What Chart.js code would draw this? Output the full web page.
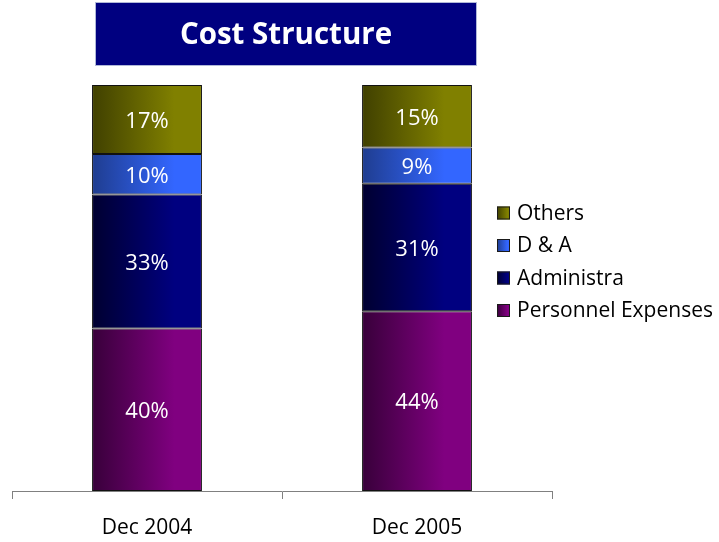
<!DOCTYPE html>
<html>
<head>
<meta charset="utf-8">
<script src="https://cdn.jsdelivr.net/npm/chart.js@4/dist/chart.umd.min.js"></script>
<style>
  html, body { margin: 0; padding: 0; background: #ffffff; }
  #wrap { width: 719px; height: 542px; position: relative; }
</style>
</head>
<body>
<div id="wrap"><canvas id="c" width="719" height="542"></canvas></div>
<script>
// ---- data ----
const categories = ["Dec 2004", "Dec 2005"];
const personnel = [40, 44.3];
const administra = [33, 31.4];
const dAndA = [10, 8.9];
const others = [17, 15.4];
const seriesNames = ["Personnel Expenses", "Administra", "D & A", "Others"];
const chartTitle = "Cost Structure";

// ---- styles ----
const FONT = "'Open Sans', 'Noto Sans', sans-serif";
const palette = [
  { dark: "#38003a", light: "#800080" },
  { dark: "#000030", light: "#000080" },
  { dark: "#1f3d8f", light: "#3366ff" },
  { dark: "#404000", light: "#808000" }
];

function barGradient(ctx) {
  const chart = ctx.chart;
  const xs = chart.scales.x;
  const p = palette[ctx.datasetIndex];
  if (!xs || ctx.dataIndex === undefined) return p.light;
  const cw = xs.width / categories.length;
  const bw = cw * 0.407;
  const cx = xs.getPixelForValue(ctx.dataIndex);
  if (!isFinite(cx) || !isFinite(bw) || bw <= 0) return p.light;
  const g = chart.ctx.createLinearGradient(cx - bw / 2, 0, cx + bw / 2, 0);
  g.addColorStop(0, p.dark);
  g.addColorStop(0.75, p.light);
  g.addColorStop(1, p.light);
  return g;
}

const seriesData = [personnel, administra, dAndA, others];
const datasets = seriesData.map((d, i) => ({
  label: seriesNames[i],
  data: d,
  backgroundColor: barGradient,
  borderColor: "#111111",
  borderWidth: 1,
  borderSkipped: false,
  categoryPercentage: 1.0,
  barPercentage: 0.407
}));

const titlePlugin = {
  id: "boxTitle",
  afterDraw(chart) {
    const c = chart.ctx;
    const ca = chart.chartArea;
    const cx = (ca.left + ca.right) / 2 + 4;
    const w = 380, h = 62, top = 3;
    c.save();
    c.fillStyle = "#000080";
    c.fillRect(cx - w / 2, top, w, h);
    c.strokeStyle = "#b0b8d8";
    c.lineWidth = 1;
    c.strokeRect(cx - w / 2 - 0.5, top - 0.5, w + 1, h + 1);
    c.fillStyle = "#ffffff";
    c.font = "bold 29.5px " + FONT;
    c.textAlign = "center";
    c.textBaseline = "middle";
    c.fillText(chartTitle, cx, top + h / 2 + 2);
    c.restore();
  }
};

const labelPlugin = {
  id: "segLabels",
  afterDatasetsDraw(chart) {
    const c = chart.ctx;
    c.save();
    c.fillStyle = "#ffffff";
    c.font = "22px " + FONT;
    c.textAlign = "center";
    c.textBaseline = "middle";
    chart.data.datasets.forEach((ds, di) => {
      const meta = chart.getDatasetMeta(di);
      meta.data.forEach((bar, i) => {
        const v = ds.data[i];
        const yMid = (bar.y + bar.base) / 2;
        c.fillText(Math.round(v) + "%", bar.x, yMid + 2);
      });
    });
    c.restore();
  }
};

const legendPlugin = {
  id: "sideLegend",
  afterDraw(chart) {
    const c = chart.ctx;
    const ds = chart.data.datasets;
    const x0 = 497, y0 = 213, step = 32.5, box = 13;
    c.save();
    c.font = "21px " + FONT;
    c.textAlign = "left";
    c.textBaseline = "middle";
    for (let k = 0; k < ds.length; k++) {
      const di = ds.length - 1 - k;
      const y = y0 + k * step;
      const p = palette[di];
      const g = c.createLinearGradient(x0, 0, x0 + box, 0);
      g.addColorStop(0, p.dark);
      g.addColorStop(0.8, p.light);
      g.addColorStop(1, p.light);
      c.fillStyle = g;
      c.fillRect(x0, y - box / 2, box, box);
      c.strokeStyle = "#1a1a1a";
      c.lineWidth = 1;
      c.strokeRect(x0 + 0.5, y - box / 2 + 0.5, box - 1, box - 1);
      c.fillStyle = "#000000";
      c.fillText(ds[di].label, x0 + 20, y + 1);
    }
    c.restore();
  }
};

new Chart(document.getElementById("c"), {
  type: "bar",
  data: { labels: categories, datasets: datasets },
  options: {
    responsive: false,
    animation: false,
    devicePixelRatio: 1,
    layout: { padding: { left: 12, right: 167, top: 85, bottom: 5 } },
    plugins: {
      legend: { display: false },
      title: { display: false },
      tooltip: { enabled: false }
    },
    scales: {
      x: {
        stacked: true,
        afterFit(scale) { scale.height = 46; },
        grid: {
          display: true,
          offset: true,
          drawOnChartArea: false,
          drawTicks: true,
          tickLength: 8,
          color: "#808080"
        },
        border: { display: true, color: "#808080", width: 1 },
        ticks: {
          color: "#000000",
          font: { family: FONT, size: 21 },
          padding: 16
        }
      },
      y: {
        stacked: true,
        display: false,
        min: 0,
        max: 100
      }
    }
  },
  plugins: [titlePlugin, labelPlugin, legendPlugin]
});
</script>
</body>
</html>
